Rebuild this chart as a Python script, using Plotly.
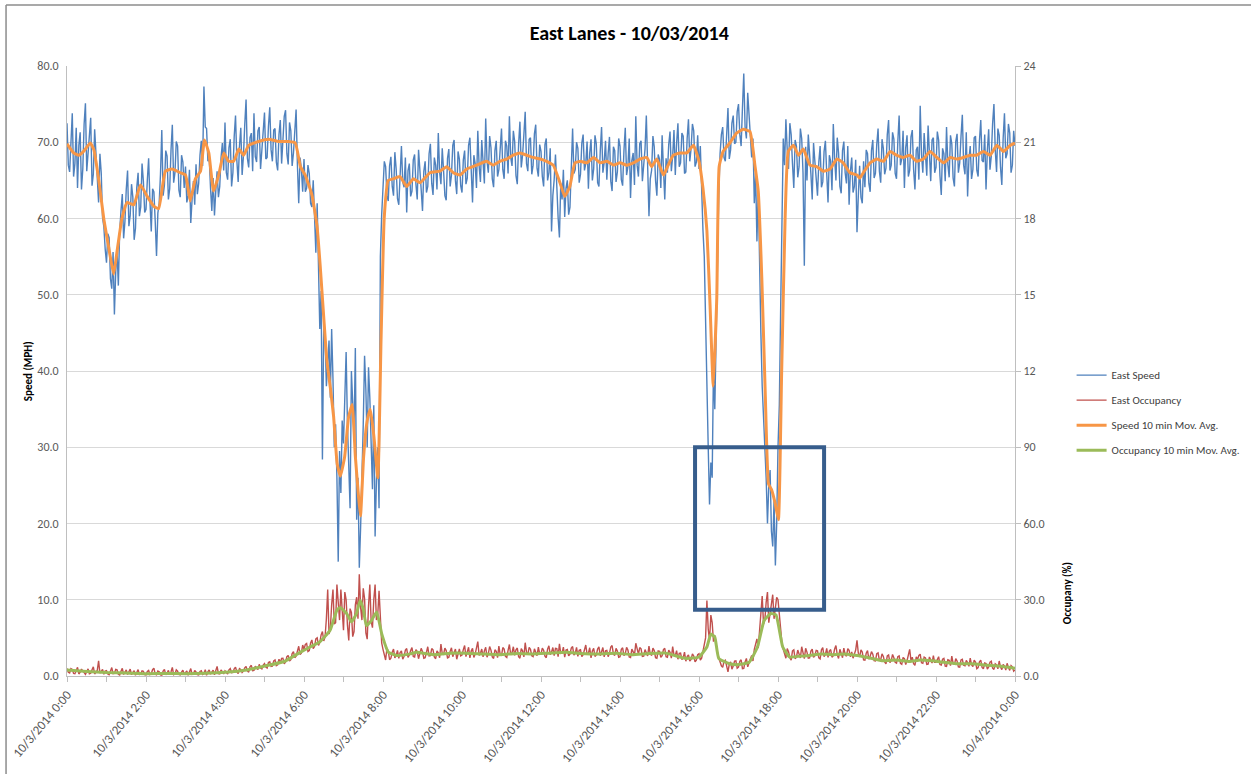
import pandas as pd
import plotly.graph_objects as go

# ---------------- data ----------------
# raw 2-minute readings, 10/3/2014 00:00 -> 10/4/2014 00:00 (one row per hour)
east_speed = [
    72.5,67.0,66.1,70.8,73.8,65.5,67.2,71.9,64.0,69.6,71.3,63.8,66.5,72.4,75.1,66.2,69.0,70.9,73.2,64.3,65.8,71.7,68.4,64.0,62.1,68.5,66.0,60.1,58.9,56.0,
    54.2,58.0,57.5,52.1,50.8,55.6,47.4,53.0,55.9,51.2,58.3,61.0,63.2,57.4,59.6,63.8,66.3,59.0,60.4,64.5,62.8,57.2,58.7,64.1,66.0,60.3,61.5,67.2,64.9,60.8,
    61.2,65.0,67.9,62.3,58.3,63.9,63.5,59.6,55.1,60.7,62.0,65.8,71.6,63.0,64.4,68.9,68.2,62.5,63.9,69.0,72.3,64.7,66.0,70.1,69.5,63.7,62.8,68.3,67.4,64.0,
    66.8,62.1,63.0,66.4,59.4,62.5,64.9,61.8,67.1,63.2,64.6,68.3,70.2,66.9,77.3,72.0,71.8,67.5,68.0,64.0,61.0,65.3,60.4,63.6,66.2,62.8,64.2,68.0,69.9,66.3,
    72.6,66.0,65.1,69.3,70.4,64.2,66.0,70.8,73.5,67.6,64.8,69.5,71.9,65.7,68.2,72.3,75.6,67.9,66.7,70.6,71.2,66.2,73.8,68.1,67.4,71.5,72.0,66.5,69.1,72.7,
    73.9,67.8,68.0,72.1,74.6,69.0,67.5,71.6,71.8,67.4,66.3,71.0,72.9,67.2,69.8,73.4,74.2,68.5,67.1,72.6,71.5,66.9,68.6,72.0,74.3,67.0,62.0,68.0,66.5,63.5,
    67.8,63.5,64.0,67.0,65.9,62.0,61.5,65.0,59.5,55.5,62.0,52.0,45.5,50.5,28.4,46.0,44.8,38.0,41.0,44.0,36.5,45.5,39.0,30.0,33.0,26.0,15.0,29.5,24.0,33.5,
    30.5,36.0,42.5,33.0,27.0,22.0,40.0,34.5,31.5,43.0,20.5,26.0,14.2,19.5,25.0,33.0,42.0,37.5,30.0,40.5,36.5,29.0,24.5,35.5,18.3,25.5,30.0,22.0,55.0,60.5,
    63.5,67.5,66.8,63.0,62.3,66.9,68.1,64.2,63.0,68.7,66.5,62.6,61.8,67.0,69.5,64.8,64.1,68.0,60.8,66.3,67.2,62.9,63.6,67.7,68.4,64.5,62.5,69.0,66.9,63.8,
    61.0,66.2,67.5,63.4,64.2,68.5,69.8,64.6,63.1,68.0,67.0,63.8,71.2,66.1,64.5,69.2,66.3,63.0,62.4,67.9,69.1,64.2,65.7,69.6,70.3,65.0,63.2,68.8,67.8,64.3,
    63.4,67.7,68.9,64.5,65.3,69.6,70.6,65.8,62.1,68.3,67.2,64.0,71.5,66.9,64.8,70.3,68.0,64.6,73.1,67.5,66.0,70.8,69.3,65.2,64.1,68.9,70.2,65.5,66.4,70.0,
    71.8,66.4,65.2,70.2,69.5,65.9,73.4,68.0,66.9,71.5,70.1,65.6,64.5,69.8,72.7,66.7,68.3,71.0,74.0,67.2,66.2,70.4,70.6,65.8,67.0,71.1,72.3,66.6,65.5,69.7,
    68.8,65.5,64.2,69.7,70.5,65.0,66.0,69.2,58.3,63.0,65.1,68.4,63.0,60.1,57.5,64.6,62.5,66.4,60.2,64.0,65.0,60.5,61.5,67.3,71.8,65.9,66.4,70.0,69.2,64.7,
    65.8,69.9,71.0,66.3,67.2,70.1,63.9,68.6,70.4,65.0,66.5,70.9,69.8,64.7,64.2,68.8,72.0,66.0,67.4,70.2,65.1,68.5,70.7,64.9,63.6,69.4,68.9,64.8,66.1,70.5,
    69.5,65.1,64.3,68.9,71.9,65.7,66.8,70.5,62.7,67.6,68.6,64.4,73.4,67.0,65.5,69.8,70.2,64.9,67.0,69.1,73.5,66.0,60.3,65.2,66.3,70.8,69.4,65.0,63.0,68.4,
    67.8,64.0,70.9,66.5,62.5,67.9,66.0,69.7,71.4,66.2,68.2,71.6,65.7,69.9,72.5,66.8,67.3,71.2,70.8,65.9,66.1,70.5,73.0,67.5,69.2,72.4,71.5,66.8,67.4,70.9,
    66.5,69.5,62.0,58.5,55.0,48.0,40.0,30.0,22.5,28.0,26.0,40.5,35.0,46.0,55.0,63.0,68.5,71.0,72.0,68.0,67.5,71.5,74.5,67.8,69.0,72.5,73.5,69.8,70.0,74.0,
    75.0,71.0,69.5,74.5,79.0,72.0,70.5,76.5,74.0,71.0,68.0,70.5,62.0,66.0,57.0,64.0,52.0,45.0,38.0,34.5,30.0,26.0,20.0,25.0,27.0,19.0,17.0,23.0,14.5,20.0,
    30.0,35.5,48.0,62.0,70.5,67.0,73.0,69.0,66.5,72.5,71.0,67.2,64.0,70.3,69.5,65.4,66.8,71.8,70.5,66.0,53.8,69.4,65.0,71.0,68.8,65.8,62.5,69.9,67.5,64.5,
    63.0,67.4,69.5,64.1,64.8,68.8,70.2,65.9,62.1,68.3,67.5,63.7,72.4,67.9,65.0,70.6,68.6,64.2,63.3,68.9,70.1,66.0,64.6,69.5,61.8,66.2,68.0,63.4,64.2,67.7,
    58.2,63.0,66.9,62.8,62.0,67.5,64.1,69.0,68.5,64.6,63.5,68.9,70.3,65.3,65.9,69.7,71.8,66.2,64.7,70.4,69.2,65.8,66.6,71.0,72.9,66.3,67.0,71.3,70.4,65.9,
    65.2,70.1,73.5,67.0,67.8,71.5,64.0,69.3,70.9,65.5,66.3,70.7,71.6,66.4,63.8,69.0,69.4,65.1,74.8,68.4,66.0,71.2,68.7,65.6,72.2,67.8,64.9,70.3,70.6,66.0,
    66.7,71.4,70.3,65.6,63.1,69.2,68.5,64.9,72.0,67.1,65.4,70.9,69.8,65.3,64.2,70.1,71.1,66.0,67.3,70.8,73.6,67.0,65.8,71.3,62.9,67.8,69.5,65.2,66.4,70.6,
    70.8,66.3,65.5,70.2,72.9,67.6,67.4,71.0,63.8,68.9,71.7,66.4,68.2,72.5,75.0,69.0,66.1,71.8,70.9,66.7,64.4,70.5,73.8,67.9,68.5,72.4,71.2,66.0,67.0,71.5,
    69.5,
]

east_occupancy = [
    3.0,1.5,1.2,2.9,2.6,1.0,0.9,2.4,3.4,0.8,1.5,2.7,2.2,1.3,0.6,2.0,2.8,0.9,1.1,2.5,3.6,0.8,1.3,2.2,6.0,1.1,1.8,2.6,0.7,1.9,
    2.1,0.8,0.5,2.3,3.3,0.9,1.0,2.6,2.4,0.7,0.4,1.9,3.0,0.6,1.6,2.4,0.6,1.8,2.7,0.5,1.2,2.1,0.3,1.6,2.5,0.6,0.9,2.0,1.8,0.5,
    0.4,1.8,2.2,0.6,1.0,2.5,3.1,0.7,0.5,2.0,1.7,0.4,0.3,1.9,2.6,0.5,1.1,2.2,0.6,1.7,3.4,0.5,0.8,2.4,1.9,0.6,0.4,1.5,2.3,0.7,
    1.2,2.0,0.3,1.4,2.9,0.6,0.7,2.2,1.6,0.5,0.4,1.8,2.1,0.6,0.9,2.5,0.3,1.6,2.4,0.7,1.3,2.3,0.5,1.9,3.8,0.9,0.8,2.4,1.5,0.8,
    2.0,1.1,0.8,2.4,2.9,1.3,1.4,2.8,3.5,1.6,1.0,2.9,2.6,1.4,1.9,3.2,3.8,2.0,1.5,3.6,4.2,2.1,2.2,3.9,3.3,2.5,4.6,3.1,2.8,4.3,
    4.9,3.5,3.1,5.3,5.6,3.8,3.9,5.9,6.3,4.1,4.4,6.6,5.2,6.9,7.0,4.8,5.5,7.6,8.1,5.9,6.4,8.8,9.6,7.2,7.8,10.4,11.7,8.5,9.0,12.2,
    10.5,12.4,12.8,9.6,10.0,13.0,14.2,10.8,11.6,14.6,15.0,12.0,13.2,16.2,17.5,13.8,15.4,22.5,34.0,16.5,18.5,28.0,34.0,20.5,21.0,36.0,29.0,22.0,34.0,24.5,
    18.0,33.0,30.0,20.0,14.0,26.5,25.0,15.5,17.5,28.0,31.0,22.5,40.0,27.0,22.0,34.5,30.5,17.0,14.5,27.5,36.0,21.5,19.0,30.0,36.0,22.0,24.0,33.5,20.0,13.0,
    10.5,8.0,6.3,11.0,9.8,6.4,7.0,9.4,10.6,7.1,8.2,10.1,6.9,9.2,9.9,6.6,7.8,10.2,10.8,7.3,8.3,10.0,11.2,7.7,7.5,10.4,9.6,6.8,8.4,10.9,
    9.6,7.0,7.2,10.2,11.5,7.9,8.0,10.8,10.3,7.5,6.8,9.9,9.1,7.2,12.6,8.8,8.5,11.0,10.0,7.1,7.4,9.7,11.1,7.6,8.9,10.6,6.6,9.3,10.7,7.9,
    8.2,10.4,12.0,7.6,9.4,11.3,7.1,9.8,10.9,7.3,8.6,11.0,13.5,8.1,9.0,10.6,7.5,9.9,11.3,7.4,8.8,11.6,10.2,7.5,6.9,10.3,9.7,7.2,11.8,8.5,
    8.0,11.2,10.6,7.7,7.3,10.1,12.4,8.3,9.2,11.5,8.1,10.3,11.0,7.6,7.0,10.8,9.9,7.5,13.1,9.4,8.4,11.3,10.5,7.9,7.6,10.7,9.3,8.0,11.4,8.7,
    8.7,11.0,10.1,7.8,7.2,10.6,11.9,8.4,9.5,11.2,8.0,10.9,10.8,7.6,12.7,8.9,9.1,11.4,7.4,10.2,10.4,7.9,8.6,11.0,11.6,8.2,9.0,11.3,7.7,10.1,
    10.3,7.6,8.4,10.7,12.2,8.5,9.0,11.1,7.1,9.8,10.9,7.7,8.3,10.6,11.5,8.0,9.6,11.2,7.5,9.9,10.1,7.6,8.9,11.4,12.0,8.6,8.1,10.9,9.8,7.4,
    7.6,10.5,11.1,8.0,8.8,11.3,10.2,7.5,7.3,10.6,9.5,8.1,12.9,9.9,8.6,11.2,10.7,7.7,7.8,10.4,9.2,7.9,11.8,8.5,8.2,11.0,10.0,7.2,7.0,9.9,
    9.7,7.3,8.0,10.4,10.9,7.6,7.4,10.2,9.3,7.0,11.6,8.2,8.1,10.0,6.6,8.9,9.0,6.4,7.2,9.4,5.8,7.6,8.3,5.9,6.5,8.7,7.9,5.6,6.2,8.4,
    8.8,6.3,7.0,9.6,11.5,15.0,29.7,18.5,14.0,24.0,21.0,13.5,16.0,12.0,9.5,7.2,5.5,4.0,3.4,5.8,6.2,3.2,1.6,4.6,5.6,2.7,3.9,5.9,6.0,3.1,
    3.5,5.8,6.4,2.9,3.0,5.5,6.9,3.6,4.8,6.7,8.1,5.9,10.5,12.8,14.6,11.0,18.5,24.0,31.5,20.5,22.0,29.0,33.0,21.0,25.0,28.5,32.0,22.5,27.0,31.0,
    30.0,24.0,19.0,13.0,10.5,8.4,7.0,10.8,9.6,7.2,6.2,9.9,10.3,6.8,7.4,10.2,8.9,7.1,11.5,8.6,6.8,10.9,9.4,7.0,7.1,9.8,10.6,7.3,8.0,10.1,
    9.9,7.1,6.7,10.3,11.2,7.6,8.5,10.9,7.3,9.8,10.4,7.4,8.0,10.6,12.0,8.3,6.9,10.5,9.2,7.2,11.0,8.4,7.8,10.8,10.1,7.5,9.5,7.0,8.6,10.2,
    14.0,9.0,7.5,10.3,9.4,6.3,6.2,9.0,10.0,6.6,7.8,9.6,8.6,6.0,5.9,8.8,9.1,6.2,6.4,8.7,7.7,5.5,4.8,7.9,8.3,5.3,6.0,8.5,7.2,5.4,
    5.1,7.6,7.9,5.0,4.6,7.3,6.8,4.5,6.0,8.2,10.5,6.1,7.4,4.8,4.2,7.5,6.5,8.1,8.6,5.2,5.0,7.4,7.1,4.6,4.7,7.5,6.3,5.1,8.0,5.4,
    5.4,6.9,7.6,4.5,4.3,6.6,6.9,3.9,3.8,6.4,6.2,4.1,7.8,5.0,4.5,6.8,5.9,3.6,3.5,6.3,6.6,4.2,4.0,6.1,5.3,3.8,7.0,4.4,3.7,6.2,
    5.5,2.9,3.3,5.6,6.2,3.4,2.8,5.1,4.9,2.7,3.6,5.4,5.8,3.1,2.6,4.8,4.4,2.8,5.9,3.5,2.5,4.6,3.9,2.3,5.0,3.4,2.2,4.1,3.6,1.9,
    2.4,
]

# 10-minute moving averages (hour of day, value)
speed_ma_hours = [
    0.0, 0.17, 0.3, 0.42, 0.59, 0.68, 0.8, 0.93, 1.05, 1.18, 1.27, 1.39, 1.52, 1.69, 1.86,
    2.03, 2.2, 2.32, 2.49, 2.66, 2.87, 3.0, 3.12, 3.25, 3.38, 3.48, 3.59, 3.71, 3.84, 3.97,
    4.09, 4.22, 4.35, 4.47, 4.6, 4.85, 5.1, 5.36, 5.61, 5.78, 5.91, 6.03, 6.2, 6.33, 6.41,
    6.5, 6.58, 6.67, 6.75, 6.84, 6.92, 7.03, 7.13, 7.22, 7.3, 7.38, 7.43, 7.51, 7.6, 7.68,
    7.77, 7.87, 7.95, 8.03, 8.13, 8.26, 8.43, 8.6, 8.77, 8.94, 9.19, 9.44, 9.61, 9.78, 9.95,
    10.12, 10.37, 10.62, 10.79, 10.96, 11.13, 11.3, 11.47, 11.64, 11.81, 11.98, 12.14, 12.31, 12.48, 12.6,
    12.73, 12.86, 13.0, 13.16, 13.33, 13.5, 13.67, 13.84, 14.0, 14.17, 14.34, 14.51, 14.68, 14.8, 14.93,
    15.1, 15.22, 15.35, 15.52, 15.69, 15.86, 16.0, 16.1, 16.2, 16.28, 16.36, 16.45, 16.51, 16.61, 16.78,
    16.95, 17.12, 17.29, 17.42, 17.5, 17.59, 17.68, 17.76, 17.84, 17.93, 18.01, 18.09, 18.18, 18.26, 18.39,
    18.52, 18.64, 18.81, 18.98, 19.15, 19.32, 19.49, 19.65, 19.82, 20.0, 20.07, 20.16, 20.33, 20.5, 20.67,
    20.84, 21.0, 21.17, 21.34, 21.51, 21.68, 21.85, 22.02, 22.19, 22.36, 22.53, 22.69, 22.86, 23.03, 23.2,
    23.37, 23.54, 23.71, 23.88, 24.0,
]
speed_ma = [
    69.8, 68.6, 68.3, 68.8, 69.9, 69.0, 65.2, 60.0, 56.4, 52.7, 55.8, 60.0, 62.1, 61.8, 64.4,
    62.9, 61.6, 61.3, 66.2, 66.5, 66.0, 65.7, 62.3, 65.2, 66.2, 70.3, 68.6, 63.6, 65.7, 68.6,
    67.5, 67.5, 69.1, 68.3, 69.6, 70.1, 70.4, 70.1, 70.1, 69.9, 66.8, 65.7, 63.1, 59.0, 53.8,
    47.0, 41.3, 37.7, 34.0, 27.8, 26.2, 28.8, 34.0, 35.6, 28.8, 23.6, 21.0, 28.8, 33.5, 35.0,
    31.4, 26.0, 44.0, 60.0, 65.0, 65.2, 65.5, 64.2, 65.2, 64.7, 66.0, 66.2, 66.8, 66.0, 65.7,
    66.5, 67.0, 67.5, 67.0, 67.5, 67.8, 68.3, 68.6, 68.3, 68.0, 67.8, 67.5, 67.0, 64.7, 62.9,
    64.2, 67.3, 67.5, 67.3, 68.0, 67.3, 67.5, 67.0, 67.3, 67.0, 67.3, 67.8, 68.0, 66.8, 67.8,
    65.7, 67.0, 68.3, 68.6, 68.6, 69.6, 67.5, 64.0, 58.4, 48.6, 38.0, 49.6, 66.8, 68.8, 69.9,
    71.2, 71.7, 71.4, 66.8, 63.6, 52.2, 36.6, 25.2, 24.4, 22.6, 20.5, 39.2, 60.0, 68.8, 69.6,
    68.3, 69.1, 67.0, 66.8, 66.2, 66.5, 67.8, 67.3, 66.0, 65.7, 65.3, 66.0, 67.3, 67.8, 67.5,
    68.8, 68.3, 68.0, 68.3, 67.5, 67.8, 68.8, 68.0, 67.3, 68.0, 67.8, 68.0, 68.3, 68.3, 68.8,
    68.3, 69.6, 68.8, 69.6, 69.9,
]

occupancy_ma_hours = [
    0.0, 0.5, 1.0, 1.5, 2.0, 2.5, 3.0, 3.5, 4.0, 4.55, 5.0, 5.5, 5.9, 6.15, 6.4,
    6.66, 6.83, 6.91, 7.08, 7.2, 7.33, 7.42, 7.5, 7.58, 7.71, 7.84, 7.97, 8.14, 8.35, 8.69,
    8.85, 9.27, 9.7, 10.1, 10.5, 10.96, 11.4, 11.8, 12.2, 12.64, 13.0, 13.49, 13.9, 14.3, 14.7,
    15.16, 15.67, 16.0, 16.2, 16.3, 16.4, 16.5, 16.77, 17.0, 17.27, 17.48, 17.65, 17.82, 17.95, 18.12,
    18.29, 18.56, 18.8, 19.1, 19.4, 19.7, 20.0, 20.3, 20.66, 21.0, 21.33, 21.6, 21.9, 22.2, 22.5,
    22.9, 23.3, 23.6, 24.0,
]
occupancy_ma = [
    2.4, 1.8, 1.35, 1.2, 0.9, 1.0, 0.9, 1.1, 1.5, 2.4, 3.9, 5.7, 9.3, 11.4, 13.4,
    18.0, 25.8, 27.0, 24.6, 21.3, 24.6, 29.7, 26.4, 19.8, 21.9, 25.2, 16.5, 9.3, 8.1, 8.7,
    9.3, 8.4, 9.0, 9.0, 8.7, 8.4, 8.9, 8.7, 9.0, 9.3, 8.9, 8.7, 9.0, 8.4, 8.8,
    9.0, 6.9, 7.5, 11.4, 16.5, 15.3, 6.9, 4.8, 4.5, 5.4, 11.4, 21.9, 24.6, 24.0, 11.4,
    7.5, 7.8, 8.1, 8.7, 8.4, 8.7, 8.1, 7.2, 6.0, 6.3, 5.7, 6.3, 6.0, 5.4, 4.8,
    4.8, 4.2, 3.9, 3.0,
]

x_tick_hours = list(range(0, 25))
x_tick_labels = [
    "10/3/2014 0:00", "", "10/3/2014 2:00", "", "10/3/2014 4:00", "", "10/3/2014 6:00", "",
    "10/3/2014 8:00", "", "10/3/2014 10:00", "", "10/3/2014 12:00", "", "10/3/2014 14:00", "",
    "10/3/2014 16:00", "", "10/3/2014 18:00", "", "10/3/2014 20:00", "", "10/3/2014 22:00", "",
    "10/4/2014 0:00",
]
y2_tick_values = [0, 30, 60, 90, 120, 150, 180, 210, 240]
y2_tick_labels = ["0.0", "30.0", "60.0", "90", "12", "15", "18", "21", "24"]

# highlighted window (time range and speed range)
box_start, box_end = "2014-10-03 15:54", "2014-10-03 19:10"
box_low, box_high = 8.7, 30.0

# ---------------- figure ----------------
day = pd.Timestamp("2014-10-03")
raw_times = pd.date_range(day, periods=len(east_speed), freq="2min")
occ_times = pd.date_range(day, periods=len(east_occupancy), freq="2min")
speed_ma_times = day + pd.to_timedelta(speed_ma_hours, unit="h")
occ_ma_times = day + pd.to_timedelta(occupancy_ma_hours, unit="h")
tick_times = day + pd.to_timedelta(x_tick_hours, unit="h")

FONT = "'Liberation Sans Narrow', Carlito, 'Arial Narrow', 'Liberation Sans', sans-serif"
BLUE, RED, ORANGE, GREEN = "#4F81BD", "#C0504D", "#F79646", "#9BBB59"

fig = go.Figure()
fig.add_trace(go.Scatter(x=raw_times, y=east_speed, name="East Speed", mode="lines",
                         line=dict(color=BLUE, width=1.4), legendrank=1, legendgroup="a"))
fig.add_trace(go.Scatter(x=speed_ma_times, y=speed_ma, name="Speed 10 min Mov. Avg.", mode="lines",
                         line=dict(color=ORANGE, width=3, shape="spline", smoothing=0.4),
                         legendrank=3, legendgroup="c"))
fig.add_trace(go.Scatter(x=occ_times, y=east_occupancy, name="East Occupancy", mode="lines",
                         line=dict(color=RED, width=1.4), yaxis="y2", legendrank=2, legendgroup="b"))
fig.add_trace(go.Scatter(x=occ_ma_times, y=occupancy_ma, name="Occupancy 10 min Mov. Avg.", mode="lines",
                         line=dict(color=GREEN, width=3, shape="spline", smoothing=0.4),
                         yaxis="y2", legendrank=4, legendgroup="d"))

fig.add_shape(type="rect", xref="x", yref="y", x0=box_start, x1=box_end, y0=box_low, y1=box_high,
              line=dict(color="#375D8C", width=4), fillcolor="rgba(0,0,0,0)", layer="above")

# outer chart border (top and left edges)
fig.add_shape(type="line", xref="paper", yref="paper", x0=-0.0643, x1=1.26, y0=1.1, y1=1.1,
              line=dict(color="#8C8C8C", width=1.5))
fig.add_shape(type="line", xref="paper", yref="paper", x0=-0.0643, x1=-0.0643, y0=1.1, y1=-0.17,
              line=dict(color="#8C8C8C", width=1.5))

fig.update_layout(
    width=1251, height=774,
    margin=dict(l=67, r=236, t=66, b=98, autoexpand=False),
    paper_bgcolor="white", plot_bgcolor="white",
    font=dict(family=FONT, size=11, color="#595959"),
    title=dict(text="<b>East Lanes - 10/03/2014</b>", x=0.503, xref="container", xanchor="center",
               y=0.957, yref="container", yanchor="middle",
               font=dict(family=FONT, size=20, color="#000000")),
    showlegend=True,
    legend=dict(x=1.0597, xanchor="left", y=0.517, yanchor="top", tracegroupgap=6,
                font=dict(family=FONT, size=11, color="#404040"), bgcolor="rgba(0,0,0,0)"),
    xaxis=dict(type="date", range=[day, day + pd.Timedelta(hours=24)],
               tickvals=tick_times, ticktext=x_tick_labels, tickangle=-50,
               ticks="outside", ticklen=5, tickcolor="#BFBFBF",
               showline=True, linecolor="#BFBFBF", linewidth=1,
               showgrid=False, zeroline=False,
               tickfont=dict(family=FONT, size=13, color="#595959")),
    yaxis=dict(range=[0, 80], dtick=10, tickformat=".1f",
               showgrid=True, gridcolor="#D9D9D9", gridwidth=1,
               showline=True, linecolor="#BFBFBF", zeroline=False, ticks="",
               ticklabelstandoff=5,
               tickfont=dict(family=FONT, size=12, color="#595959")),
    yaxis2=dict(range=[0, 240], overlaying="y", side="right",
                tickvals=y2_tick_values, ticktext=y2_tick_labels,
                showgrid=False, showline=True, linecolor="#BFBFBF", zeroline=False,
                ticks="outside", ticklen=5, tickcolor="#BFBFBF",
                tickfont=dict(family=FONT, size=12, color="#595959")),
    annotations=[
        dict(text="<b>Speed (MPH)</b>", xref="paper", yref="paper", x=-0.041, y=0.5,
             xanchor="center", yanchor="middle",
             textangle=-90, showarrow=False, font=dict(family=FONT, size=11, color="#000000")),
        dict(text="<b>Occupany (%)</b>", xref="paper", yref="paper", x=1.055, y=0.136,
             xanchor="center", yanchor="middle",
             textangle=-90, showarrow=False, font=dict(family=FONT, size=11, color="#000000")),
    ],
)

fig.write_html("out.html", config={"displayModeBar": False},
               post_script="document.body.style.margin='0';document.body.style.overflow='hidden';")
